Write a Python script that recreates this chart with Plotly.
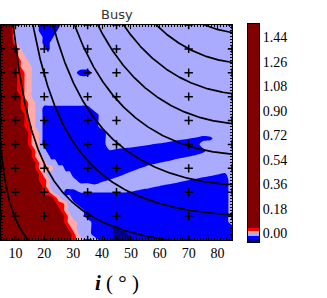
import numpy as np
import plotly.graph_objects as go

# ---------------- data ----------------
# simulation grid (the "+" marks)
incl_points = [5, 10, 20, 35, 45, 70, 85]                       # i (deg)
vrot_points = [40, 60, 80, 100, 120, 140, 160, 180, 200, 220]   # y (arbitrary units, labels hidden)

# raster on which the filled-contour bands were read (i in deg, v top -> bottom)
map_incl = [5 + 1.25 * k for k in range(21)] + [32.5 + 2.5 * k for k in range(22)]
map_v_top_down = [220 - 5 * k for k in range(37)]

# band codes: 0 dark blue, 1 blue, 2 light blue, 3 pink, 4 red, 5 dark red
# (fractional codes sit on a band edge); run-length rows "code:count",
# top row first (fine part | coarse part)
band_rle = [
    "5:4 2:7 1:6 2:4 | 2:22",
    "5:4 2:7 1:5 2:5 | 2:22",
    "5:4 2:8 1:3 2:6 | 2:22",
    "5:4 3:1 2:7 1:2 2:7 | 2:22",
    "5:5 3:1 2:7 1:1 2:7 | 2:22",
    "5:5 3:2 2:14 | 2:22",
    "5:5 4:1 3:2 2:13 | 2:22",
    "5:5 4:1 3:3 2:12 | 2:22",
    "5:5 4:2 3:2 2:12 | 1:2 2:20",
    "5:5 4:2 3:2 2:12 | 2:22",
    "5:5 4:2 3:2 2:12 | 2:22",
    "5:5 4:2 3:2 2:12 | 2:22",
    "5:6 4:1 3:2 2:12 | 2:22",
    "5:6 4:2 3:2 2:11 | 2:22",
    "5:6 4:2 3:2 2:2 1:9 | 1:2 2:20",
    "5:7 4:1 3:2 2:2 1:9 | 1:3 2:19",
    "5:7 4:1 3:2 2:2 1:9 | 1:3 2:19",
    "5:7 4:2 3:1 2:2 1:9 | 1:3 2:19",
    "5:8 4:1 3:2 2:1 1:9 | 1:4 2:18",
    "5:8 4:1 3:2 2:1 1:9 | 1:4 2:9 1.86:1 1.65:1 1.52:1 1.4:1 1.14:1 1.3:1 2:3",
    "5:8 4:1 3:2 2:1 1:9 | 1:4 2:4 1.77:1 1.61:1 1.48:1 1.39:1 1.19:1 1:4 2:5",
    "5:9 4:1 3:1 2:2 1:8 | 1:4 1.46:1 1.35:1 1.17:1 1:10 1.2:1 2:4",
    "5:9 4:1 3:2 2:2 1:7 | 1:14 1.32:1 1.48:1 1.65:1 2:5",
    "5:10 4:1 3:2 2:3 1:5 | 1:10 1.25:1 1.46:1 1.62:1 2:9",
    "5:10 4:1 3:4 2:3 1:3 | 1:8 1.43:1 1.74:1 2:12",
    "5:11 4:1 3:1 2:7 1:1 | 1:6 1.47:1 1.85:1 2:10 1.68:1 1.52:1 1.36:1 2:1",
    "5:11 4:2 3:1 2:7 | 1:3 1.3:1 1.53:1 2:9 1.65:1 1.49:1 1.33:1 1:4 2:1",
    "5:12 4:1 3:1 2:7 | 2:2 1.71:1 2:6 1.89:1 1.62:1 1.47:1 1.31:1 1:8 2:1",
    "5:12 4:2 3:1 2:3 1:3 | 1.53:7 1.46:1 1.26:1 1:12 2:1",
    "5:15 4:1 3:1 2:3 1:1 | 1:21 2:1",
    "5:16 4:2 3:1 2:2 | 1:21 2:1",
    "5:17 4:1 3:1 2:2 | 2:1 1:20 2:1",
    "5:18 4:1 3:1 2:1 | 2:1 1:20 2:1",
    "5:18 4:1 3:2 | 2:2 1:19 2:1",
    "5:19 4:1 3:1 | 2:2 1:3 0:1 1:16",
    "5:20 4:1 | 2:2 1:3 0:2 1:15",
    "5:20 4:1 | 3:1 2:2 1:2 0:3 1:14",
]

# colour-bar band edges (value units) and tick labels
cbar_edges = [-0.064, -0.042, -0.02, 0.0, 0.017, 0.037, 1.54]
cbar_ticks = [0.00, 0.18, 0.36, 0.54, 0.72, 0.90, 1.08, 1.26, 1.44]

vsini_levels = [10, 35.5, 61, 86, 111.5, 137, 162, 188, 213]

band_colors = ["rgb(0,0,140)", "rgb(0,0,255)", "rgb(170,170,255)",
               "rgb(255,170,170)", "rgb(255,0,0)", "rgb(128,0,0)"]

# ---------------- build ----------------
def expand(rle):
    out = []
    for tok in rle.replace("|", " ").split():
        code, n = tok.split(":")
        out += [float(code)] * int(n)
    return out

z_rows = [expand(r) for r in band_rle]
z = z_rows[::-1]
map_v = map_v_top_down[::-1]

cs = []
for k, c in enumerate(band_colors):
    lo = max(0.0, (k - 0.5) / 5)
    hi = min(1.0, (k + 0.5) / 5)
    cs += [[lo, c], [hi, c]]

fig = go.Figure()

fig.add_trace(go.Contour(
    x=map_incl, y=map_v, z=z,
    contours=dict(start=0.5, end=4.5, size=1, coloring="fill", showlines=False),
    line=dict(width=0, smoothing=0.8),
    colorscale=cs, showscale=False, hoverinfo="skip",
))

i_fine = np.linspace(5, 85, 500)
for c in vsini_levels:
    v = c / np.sin(np.radians(i_fine))
    v = np.where(v > 600, np.nan, v)
    fig.add_trace(go.Scatter(x=i_fine, y=v, mode="lines",
                             line=dict(color="black", width=1.7),
                             hoverinfo="skip", showlegend=False))

px, py = np.meshgrid(incl_points, vrot_points)
fig.add_trace(go.Scatter(
    x=px.ravel(), y=py.ravel(), mode="markers",
    marker=dict(symbol="cross-thin", size=6, line=dict(width=1.5, color="black")),
    cliponaxis=True, hoverinfo="skip", showlegend=False,
))

# colour bar drawn as a heatmap on its own axes
fig.add_trace(go.Heatmap(
    x=[0, 1], y=cbar_edges, z=[[k] for k in range(6)],
    colorscale=cs, zmin=0, zmax=5, showscale=False,
    xaxis="x2", yaxis="y2", hoverinfo="skip",
))

W, H = 327, 298
ml, mr, mt, mb = 1, 28, 24, 56
pw = W - ml - mr
ph = H - mt - mb
serif = "Liberation Serif"

fig.update_layout(
    width=W, height=H,
    margin=dict(l=ml, r=mr, t=mt, b=mb, pad=0),
    paper_bgcolor="white", plot_bgcolor="white",
    showlegend=False,
    xaxis=dict(
        domain=[0, 231 / pw], range=[5, 85],
        tick0=10, dtick=10, ticks="inside", ticklen=4, tickcolor="black",
        showline=True, linecolor="black", linewidth=1, mirror="allticks",
        showgrid=False, zeroline=False,
        tickfont=dict(family=serif, size=14, color="black"),
        minor=dict(ticks="inside", ticklen=2, dtick=1, tick0=0, tickcolor="black", showgrid=False),
    ),
    yaxis=dict(
        domain=[(H - mb - 240) / ph, (H - mb - 25) / ph], range=[40, 220],
        showticklabels=False, tick0=40, dtick=20, ticks="inside", ticklen=4, tickcolor="black",
        showline=True, linecolor="black", linewidth=1, mirror="allticks",
        showgrid=False, zeroline=False,
        minor=dict(ticks="inside", ticklen=2, dtick=2.5, tick0=40, tickcolor="black", showgrid=False),
    ),
    xaxis2=dict(
        domain=[247 / pw, 258 / pw], range=[0, 1], anchor="y2",
        showticklabels=False, ticks="", showgrid=False, zeroline=False,
        showline=True, linecolor="black", linewidth=1, mirror=True,
    ),
    yaxis2=dict(
        domain=[0, 1], range=[cbar_edges[0], cbar_edges[-1]], anchor="x2", side="right",
        tickmode="array", tickvals=cbar_ticks, ticktext=["%.2f" % t for t in cbar_ticks],
        ticks="", showgrid=False, zeroline=False,
        showline=True, linecolor="black", linewidth=1, mirror=True,
        tickfont=dict(family=serif, size=14, color="black"),
    ),
    annotations=[
        dict(text="Busy", x=0.5, xref="x domain", y=1, yref="y domain",
             yanchor="bottom", yshift=1, showarrow=False,
             font=dict(family="DejaVu Sans", size=13, color="#333333")),
        dict(text="<b><i>i</i></b> ( ° )", x=0.5, xref="x domain",
             y=(240 - 283) / 215, yref="y domain", yanchor="middle", showarrow=False,
             font=dict(family=serif, size=21, color="black")),
    ],
)

fig.write_html(
    "out.html",
    config={"displayModeBar": False, "staticPlot": True},
    post_script="document.body.style.margin='0px';document.body.style.padding='0px';",
)
